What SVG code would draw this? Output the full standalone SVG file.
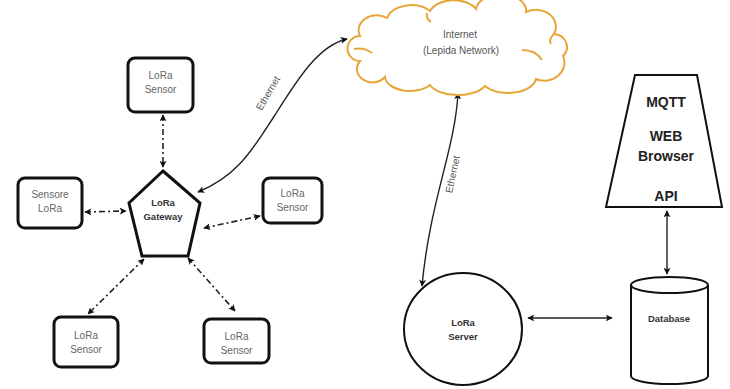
<svg xmlns="http://www.w3.org/2000/svg" width="730" height="389" viewBox="0 0 730 389">
<defs>
<marker id="ah" viewBox="0 0 10 10" refX="9" refY="5" markerWidth="7" markerHeight="7" orient="auto-start-reverse" markerUnits="userSpaceOnUse">
<path d="M0,0 L10,5 L0,10 L2.5,5 z" fill="#111"/>
</marker>
<style>
.box{fill:#fff;stroke:#111;stroke-width:3}
.shape{fill:#fff;stroke:#111;stroke-width:2}
.st{font-family:"Liberation Sans",Arial,sans-serif;font-size:10px;fill:#666;text-anchor:middle}
.bt{font-family:"Liberation Sans",Arial,sans-serif;font-size:9.5px;font-weight:bold;fill:#333;text-anchor:middle}
.big{font-family:"Liberation Sans",Arial,sans-serif;font-size:14px;font-weight:bold;fill:#222;text-anchor:middle}
.dd{fill:none;stroke:#222;stroke-width:1.6;stroke-dasharray:6 3 2 3;marker-start:url(#ah);marker-end:url(#ah)}
.sl{fill:none;stroke:#222;stroke-width:1.4;marker-start:url(#ah);marker-end:url(#ah)}
.lbl{font-family:"Liberation Sans",Arial,sans-serif;font-size:10px;fill:#555;text-anchor:middle}
</style>
</defs>
<rect width="730" height="389" fill="#fff"/>
<g id="connectors">
<line class="dd" x1="163" y1="115" x2="163" y2="167"/>
<line class="dd" x1="85" y1="212" x2="126" y2="211"/>
<line class="dd" x1="204" y1="228" x2="260" y2="216"/>
<line class="dd" x1="144" y1="259" x2="88" y2="314"/>
<line class="dd" x1="188" y1="258" x2="235" y2="311"/>
<path class="sl" d="M198 192 C240 175 255 145 275 115 C300 75 320 45 347 39"/>
<path class="sl" d="M458 93 C455 150 430 200 422 286"/>
<line class="sl" x1="528" y1="318" x2="612" y2="318"/>
<line class="sl" x1="667" y1="211" x2="667" y2="274"/>
<text class="lbl" transform="translate(271,95) rotate(-60)">Ethernet</text>
<text class="lbl" transform="translate(456,175) rotate(-78)">Ethernet</text>
</g>
<g id="sensor-top">
<rect class="box" x="128" y="58" width="65" height="54" rx="7"/>
<text class="st" x="160.5" y="79">LoRa</text>
<text class="st" x="160.5" y="93">Sensor</text>
</g>
<g id="sensor-left">
<rect class="box" x="18" y="178" width="64" height="50" rx="7"/>
<text class="st" x="50" y="198">Sensore</text>
<text class="st" x="50" y="212">LoRa</text>
</g>
<g id="sensor-right">
<rect class="box" x="263" y="178" width="59" height="45" rx="7"/>
<text class="st" x="292.5" y="197">LoRa</text>
<text class="st" x="292.5" y="211">Sensor</text>
</g>
<g id="sensor-bottom-left">
<rect class="box" x="54" y="317" width="64" height="50" rx="7"/>
<text class="st" x="86" y="339">LoRa</text>
<text class="st" x="86" y="353">Sensor</text>
</g>
<g id="sensor-bottom-right">
<rect class="box" x="204" y="319" width="65" height="44" rx="7"/>
<text class="st" x="236.5" y="340">LoRa</text>
<text class="st" x="236.5" y="354">Sensor</text>
</g>
<g id="gateway">
<polygon class="box" points="163,171 200,203 188,256 142,256 129,203"/>
<text class="bt" x="163" y="206">LoRa</text>
<text class="bt" x="163" y="220">Gateway</text>
</g>
<g id="internet">
<path fill="#fff" stroke="#E8A63A" stroke-width="2" d="M360 36 A18 15 0 0 1 387 18 A25 17 0 0 1 430 11 A25 16 0 0 1 476 9 A25 16 0 0 1 526 12 A20 17 0 0 1 554 34 A14 13 0 0 1 563 56 A20 18 0 0 1 536 79 A28 16 0 0 1 485 86 A30 16 0 0 1 430 85 A25 15 0 0 1 385 77 A14 12 0 0 1 360 61 A12 12 0 0 1 360 36 Z"/>
<path fill="none" stroke="#E8A63A" stroke-width="2" d="M354 49 Q364 47 372 53 M522 50 Q536 50 542 60 M427 13 Q426 19 431 22 M554 34 Q548 40 551 44"/>
<text class="lbl" x="460" y="38">Internet</text>
<text class="lbl" x="461" y="54">(Lepida Network)</text>
</g>
<g id="server">
<ellipse class="shape" cx="463" cy="329" rx="59" ry="56"/>
<text class="bt" x="463" y="326">LoRa</text>
<text class="bt" x="463" y="340">Server</text>
</g>
<g id="database">
<path class="shape" d="M631 285 L631 376 A38.5 8 0 0 0 708 376 L708 285"/>
<ellipse class="shape" cx="669.5" cy="285" rx="38.5" ry="8"/>
<text class="bt" x="669" y="322">Database</text>
</g>
<g id="browser">
<polygon class="shape" points="635,75 697,75 722,207 606,207"/>
<text class="big" x="666" y="107">MQTT</text>
<text class="big" x="666" y="141">WEB</text>
<text class="big" x="666" y="161">Browser</text>
<text class="big" x="666" y="201">API</text>
</g>
</svg>
